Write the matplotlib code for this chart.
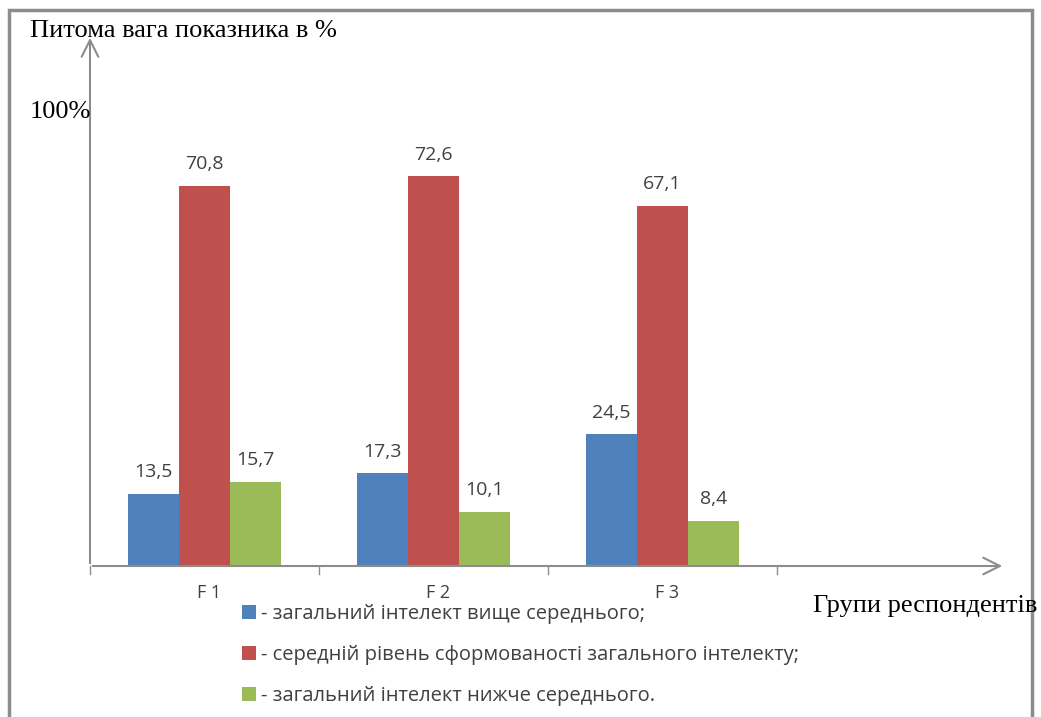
import matplotlib.pyplot as plt
from matplotlib.patches import Rectangle
import numpy as np

# Дані діаграми
groups = ['F 1', 'F 2', 'F 3']
above_avg = [13.5, 17.3, 24.5]
average = [70.8, 72.6, 67.1]
below_avg = [15.7, 10.1, 8.4]
series_labels = ['- загальний інтелект вище середнього;',
                 '- середній рівень сформованості загального інтелекту;',
                 '- загальний інтелект нижче середнього.']
colors = ['#4F81BD', '#C0504D', '#9BBB59']

W, H = 1041, 717
fig = plt.figure(figsize=(W / 100, H / 100), dpi=100)

# рамка навколо рисунка
fig.patches.append(Rectangle((9 / W, -0.05), (1032 - 9) / W, 1.05 - 10 / H,
                             transform=fig.transFigure, fill=False,
                             edgecolor='#8c8c8c', linewidth=2.5))

# вісь у пікселях: зліва 90, справа 1005, знизу 566, зверху 35
ax = fig.add_axes([90 / W, (H - 566) / H, (1005 - 90) / W, (566 - 35) / H])
ax.set_xlim(0, 915 / 229)
ax.set_ylim(0, 531 / 5.37)
ax.axis('off')

x = np.arange(len(groups)) + 0.5
bw = 0.222
sans = 'Open Sans'
for i, vals in enumerate([above_avg, average, below_avg]):
    pos = x + (i - 1) * bw
    bars = ax.bar(pos, vals, bw, color=colors[i], label=series_labels[i])
    for p, v in zip(pos, vals):
        ax.annotate(f'{v:.1f}'.replace('.', ','), (p, v), xytext=(0, 9),
                    textcoords='offset points', ha='center', va='bottom',
                    fontsize=14, family=sans, color='#404040')

# осі зі стрілками
grey = '#8c8c8c'
ax.annotate('', xy=(1, 0), xytext=(0, 0), xycoords='axes fraction',
            arrowprops=dict(arrowstyle='->', color=grey, lw=1.5, mutation_scale=30))
ax.annotate('', xy=(0, 1), xytext=(0, 0), xycoords='axes fraction',
            arrowprops=dict(arrowstyle='->', color=grey, lw=1.5, mutation_scale=30))
for t in range(4):
    ax.plot([t, t], [0, -1.5], color=grey, lw=1, clip_on=False)

for xi, g in zip(x, groups):
    ax.text(xi + 0.02, -3.3, g, ha='center', va='top', fontsize=13, family=sans,
            color='#404040')

serif = 'Liberation Serif'
fig.text(30 / W, 1 - 31 / H, 'Питома вага показника в %', fontsize=19,
         family=serif, va='center', ha='left')
fig.text(30 / W, 1 - 112 / H, '100%', fontsize=19, family=serif,
         va='center', ha='left')
fig.text(813 / W, 1 - 606 / H, 'Групи респондентів', fontsize=19,
         family=serif, va='center', ha='left')

leg = ax.legend(loc='upper left', bbox_to_anchor=(242 / W, 1 - 604 / H),
                bbox_transform=fig.transFigure, frameon=False,
                handlelength=0.7, handleheight=0.7, handletextpad=0.25,
                labelspacing=1.05, borderpad=0, borderaxespad=0,
                prop={'family': sans, 'size': 14.5})
for t in leg.get_texts():
    t.set_color('#404040')

fig.savefig('out.png', dpi=100)
